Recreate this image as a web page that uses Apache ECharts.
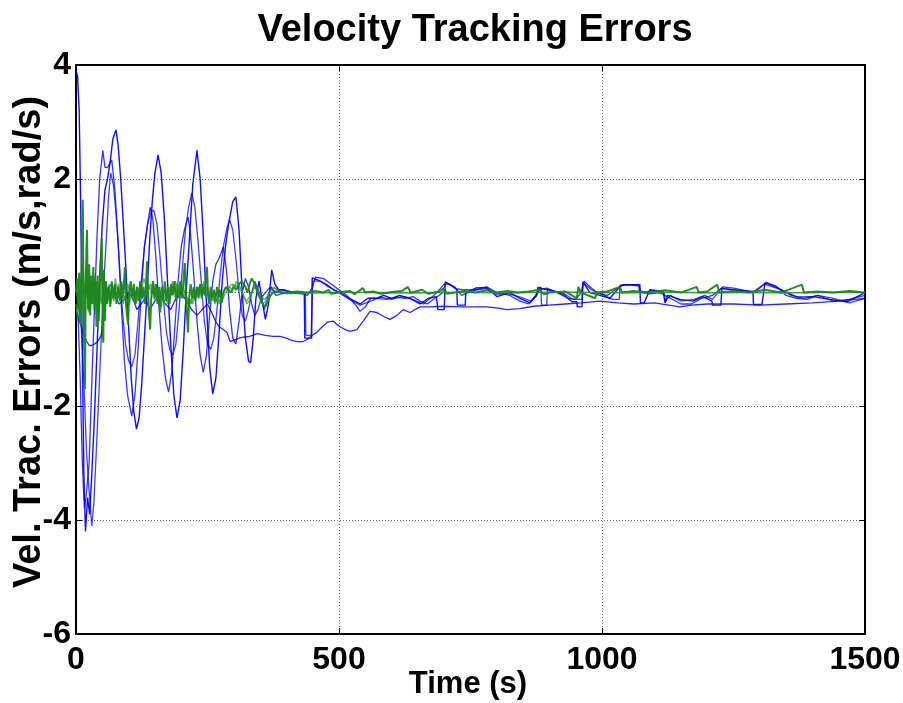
<!DOCTYPE html>
<html>
<head>
<meta charset="utf-8">
<script src="https://cdn.jsdelivr.net/npm/echarts@6/dist/echarts.min.js"></script>
<style>
  html, body { margin: 0; padding: 0; background: #fff; overflow: hidden; }
  #chart { width: 903px; height: 703px; }
</style>
</head>
<body>
<div id="chart"></div>
<script>
// Axis ticks
const xTicks = [0, 500, 1000, 1500];
const yTicks = [-6, -4, -2, 0, 2, 4];

// Linear-velocity tracking errors, [time (s), error]
const blueA = [
  [0,3.9],[3,3.8],[6,3.2],[9,1.5],[12,-1],[15,-3.2],[18,-4.2],[22,-3.6],[26,-3.9],[30,-3.2],[35,-2.2],[40,-1.0],
  [45,0.3],[50,1.2],[55,1.8],[60,2.0],[65,2.3],[70,2.7],[76,2.86],[80,2.6],[85,2.0],[90,1.2],[95,0.4],[100,-0.6],
  [105,-1.5],[110,-2.1],[115,-2.4],[120,-2.2],[125,-1.6],[130,-0.8],[135,0],[140,0.9],[145,1.6],[150,2.1],[156,2.42],
  [162,2.1],[168,1.3],[174,0.2],[180,-0.9],[186,-1.8],[192,-2.2],[198,-1.9],[204,-1.0],[210,0.1],[216,1.0],[222,1.9],
  [230,2.5],[236,2.0],[242,1.0],[248,-0.2],[254,-1.3],[260,-1.78],[266,-1.5],[272,-0.7],[278,0.2],[284,0.8],[290,1.2],
  [298,1.6],[304,1.68],[310,1.1],[316,0],[322,-0.8],[328,-1.2],[332,-1.23],[337,-0.8],[342,-0.1],[348,0.2],[355,-0.2],
  [360,-0.47],[366,-0.2],[372,0.4],[378,0.15],[385,0.05],[395,0.05],[410,0.0],[425,0.0],[434,0.0],[435,-0.8],[448,-0.8],
  [449,0.26],[460,0.22],[475,0.15],[490,0.05],[505,-0.02],[520,-0.1],[540,-0.2],[555,-0.1],[570,-0.1],[585,-0.05],
  [600,-0.1],[615,-0.05],[635,-0.1],[654,-0.2],[670,-0.1],[685,-0.07],[688,-0.3],[700,-0.3],[702,0.19],[715,0.12],
  [724,0.05],[725,-0.22],[740,-0.22],[741,0.0],[760,0.08],[781,0.09],[800,-0.07],[825,0.0],[844,-0.1],[863,-0.18],
  [876,-0.05],[878,0.09],[890,0.06],[900,0.05],[926,-0.03],[943,-0.16],[952,-0.16],[953,-0.25],[962,-0.25],[964,0.19],
  [977,0.0],[996,-0.05],[1015,-0.1],[1034,0.1],[1040,0.14],[1072,0.14],[1073,-0.18],[1080,-0.18],[1091,0.05],
  [1116,0.02],[1120,-0.18],[1125,-0.05],[1148,-0.12],[1173,-0.15],[1192,-0.07],[1209,-0.15],[1210,-0.22],[1226,-0.22],
  [1228,0.07],[1249,0.05],[1287,0.02],[1288,-0.21],[1304,-0.21],[1310,0.17],[1330,0.1],[1352,0.0],[1371,-0.08],
  [1401,-0.07],[1433,-0.12],[1466,-0.16],[1490,-0.05],[1500,0.0]
];

const blueB = [
  [0,-0.3],[4,-0.4],[8,-1.5],[12,-3.0],[16,-3.8],[20,-3.5],[25,-3.0],[30,-1.6],[35,-0.3],[40,1.0],[45,2.0],[51,2.5],
  [55,2.2],[60,2.2],[68,2.33],[74,1.8],[80,0.9],[86,-0.2],[92,-1.2],[98,-1.8],[106,-2.17],[112,-1.8],[118,-1.0],[124,0],
  [130,0.8],[136,1.2],[141,1.5],[146,1.3],[152,0.6],[158,-0.3],[164,-1.0],[170,-1.5],[176,-1.75],[182,-1.4],[188,-0.6],
  [194,0.2],[200,0.8],[206,1.1],[213,1.33],[218,1.0],[224,0.3],[230,-0.5],[236,-1.1],[242,-1.4],[248,-1.1],[254,-0.4],
  [260,0.2],[266,0.5],[272,0.6],[280,0.8],[286,0.4],[292,-0.3],[298,-0.8],[304,-0.9],[310,-0.5],[316,0.0],[322,0.25],
  [328,0.1],[334,-0.2],[340,-0.4],[346,-0.3],[352,-0.1],[360,0.0],[370,0.1],[380,-0.05],[400,0.0],[430,-0.02],
  [440,-0.05],[450,0.1],[455,0.27],[470,0.25],[485,0.15],[500,0.05],[515,-0.05],[530,-0.2],[540,-0.33],[550,-0.25],
  [560,-0.1],[572,-0.1],[590,-0.12],[610,-0.08],[625,-0.1],[641,-0.07],[654,-0.15],[668,-0.2],[682,-0.1],[690,-0.05],
  [697,0.0],[703,0.17],[720,0.1],[733,-0.05],[745,0.0],[762,0.05],[781,0.1],[800,0.0],[825,-0.05],[844,-0.15],
  [860,-0.2],[870,-0.1],[880,0.05],[895,0.08],[915,0.0],[935,-0.1],[950,-0.12],[960,0.0],[966,0.2],[975,0.12],
  [990,0.0],[1010,-0.05],[1036,0.12],[1045,0.14],[1070,0.12],[1075,0.0],[1091,-0.02],[1110,0.0],[1130,-0.1],
  [1150,-0.2],[1170,-0.2],[1190,-0.1],[1210,-0.05],[1230,0.1],[1250,0.08],[1275,0.03],[1290,0.0],[1312,0.18],
  [1330,0.12],[1350,-0.05],[1370,-0.1],[1390,-0.12],[1410,-0.05],[1440,-0.15],[1470,-0.12],[1500,-0.05]
];

const blueC = [
  [0,-0.3],[5,-0.45],[10,-0.6],[15,-0.75],[20,-0.85],[25,-0.93],[30,-0.93],[36,-0.9],[42,-0.85],[48,-0.75],[52,-0.5],
  [56,-0.2],[60,0.0],[65,0.14],[70,0.1],[76,-0.1],[82,-0.2],[88,-0.15],[94,-0.1],[100,0.0],[108,-0.1],[116,-0.3],
  [124,-0.2],[132,-0.1],[140,-0.3],[150,-0.15],[160,-0.05],[170,-0.2],[180,-0.3],[190,-0.1],[200,0.0],[210,-0.15],
  [220,-0.3],[230,-0.4],[240,-0.3],[250,-0.2],[258,-0.35],[265,-0.5],[272,-0.6],[280,-0.65],[287,-0.7],[293,-0.86],
  [300,-0.84],[310,-0.8],[320,-0.78],[330,-0.77],[345,-0.72],[360,-0.75],[375,-0.77],[388,-0.77],[400,-0.8],
  [410,-0.84],[420,-0.86],[432,-0.86],[440,-0.82],[449,-0.75],[458,-0.7],[468,-0.6],[478,-0.52],[489,-0.5],
  [495,-0.55],[502,-0.6],[512,-0.65],[521,-0.68],[534,-0.65],[546,-0.5],[559,-0.33],[572,-0.35],[585,-0.42],
  [597,-0.47],[610,-0.4],[622,-0.3],[635,-0.35],[654,-0.25],[673,-0.25],[700,-0.24],[730,-0.25],[760,-0.25],
  [781,-0.25],[800,-0.27],[819,-0.3],[844,-0.28],[870,-0.24],[900,-0.22],[930,-0.2],[960,-0.18],[996,-0.15],
  [1030,-0.18],[1060,-0.2],[1100,-0.18],[1148,-0.25],[1170,-0.22],[1200,-0.2],[1250,-0.2],[1300,-0.22],[1350,-0.2],
  [1400,-0.18],[1450,-0.15],[1480,-0.12],[1500,-0.1]
];

const blueD = [
  [0,0.05],[5,-0.2],[10,-0.6],[15,-1.6],[20,-2.8],[25,-3.5],[30,-4.1],[34,-3.7],[38,-2.9],[43,-1.9],[48,-0.8],[53,0.2],
  [58,1.0],[62,1.7],[66,2.1],[71,1.9],[76,1.4],[82,0.6],[88,-0.3],[94,-0.9],[100,-1.2],[106,-1.3],[112,-1.1],[118,-0.5],
  [124,0.2],[130,0.8],[136,1.2],[142,1.4],[148,1.45],[154,1.2],[160,0.6],[166,-0.1],[172,-0.7],[178,-1.0],[184,-1.1],
  [190,-0.9],[196,-0.3],[202,0.4],[208,1.1],[214,1.5],[220,1.75],[226,1.5],[232,0.9],[238,0.2],[244,-0.5],[250,-0.9],
  [256,-1.0],[262,-0.8],[268,-0.3],[274,0.3],[280,0.8],[286,1.1],[292,1.28],[298,1.1],[304,0.6],[310,0.0],[316,-0.4],
  [322,-0.5],[328,-0.3],[334,0.0],[340,0.2],[346,0.05],[352,-0.1],[358,-0.3],[364,-0.1],[370,0.1],[380,0.0],
  [390,0.05],[420,0.0],[436,-0.02],[437,-0.75],[447,-0.75],[450,0.2],[465,0.2],[480,0.1],[500,0.0],[520,-0.12],
  [540,-0.22],[560,-0.15],[580,-0.08],[600,-0.12],[620,-0.07],[640,-0.12],[660,-0.2],[680,-0.05],[686,0.0],[700,0.15],
  [710,0.15],[722,0.07],[735,0.05],[760,0.05],[780,0.07],[800,-0.03],[820,-0.02],[845,-0.08],[865,-0.15],[879,0.0],
  [880,0.09],[884,0.09],[885,-0.22],[895,-0.22],[896,0.05],[925,0.0],[945,-0.12],[962,-0.12],[963,0.18],[980,0.05],
  [1000,-0.03],[1020,-0.12],[1033,-0.12],[1034,0.13],[1070,0.13],[1071,0.0],[1095,0.03],[1118,0.0],[1121,-0.15],
  [1130,-0.05],[1150,-0.15],[1175,-0.12],[1195,-0.05],[1210,-0.12],[1227,0.08],[1260,0.03],[1285,0.0],[1309,0.15],
  [1340,0.05],[1360,-0.05],[1385,-0.1],[1410,-0.05],[1440,-0.1],[1470,-0.18],[1500,-0.1]
];

// Angular-velocity tracking errors, [time (s), error]
const greenA = [
  [0,0.0],[2,0.25],[4,-0.3],[6,0.35],[8,-0.5],[10,0.2],[12,1.0],[13,1.63],[14,0.2],[15,-0.7],[16,-1.2],[17,-1.7],
  [18,-0.5],[19,0.4],[20,0.8],[21,1.1],[22,0.3],[23,-0.3],[25,0.5],[27,-0.4],[29,0.3],[31,-0.2],[33,0.45],[35,-0.3],
  [37,0.2],[39,-0.6],[41,0.3],[43,-0.5],[45,0.1],[47,0.5],[49,0.96],[50,0.1],[51,-0.7],[52,-0.88],[53,0.4],[55,-0.5],
  [57,0.2],[59,-0.2],[62,0.1],[65,-0.25],[68,0.2],[71,-0.1],[74,0.15],[77,-0.2],[80,0.1],[83,-0.15],[86,0.2],[89,-0.1],
  [92,0.3],[93,0.45],[95,-0.2],[97,-0.4],[99,-0.56],[101,0.0],[104,0.2],[107,-0.1],[110,0.15],[113,-0.2],[116,0.1],
  [119,-0.15],[122,0.2],[125,-0.1],[128,0.1],[131,-0.2],[134,0.3],[135,0.55],[137,0.0],[139,-0.4],[141,-0.65],
  [143,-0.1],[146,0.2],[149,-0.1],[152,0.15],[155,-0.2],[158,0.1],[160,-0.35],[163,0.1],[166,-0.1],[169,0.2],
  [172,-0.15],[175,0.1],[178,-0.2],[181,0.15],[184,-0.05],[187,0.2],[190,-0.15],[193,0.1],[196,-0.1],[199,0.2],
  [202,-0.1],[205,0.3],[207,0.52],[209,0.0],[211,-0.4],[213,-0.7],[215,-0.1],[218,0.15],[221,-0.1],[224,0.1],
  [227,-0.15],[230,0.1],[233,-0.1],[236,0.15],[239,-0.1],[242,0.1],[245,-0.05],[247,0.3],[249,0.45],[251,0.0],
  [253,-0.2],[256,0.1],[259,-0.1],[262,0.05],[265,-0.15],[268,0.1],[271,-0.1],[274,0.05],[277,-0.18],[280,0.0],
  [285,0.1],[290,0.05],[295,0.0],[300,0.1],[305,0.05],[310,0.15],[315,0.2],[318,0.23],[322,0.1],[326,0.0],[330,0.15],
  [334,0.25],[337,0.28],[340,0.15],[345,0.0],[350,-0.1],[355,-0.2],[360,-0.25],[365,-0.15],[370,-0.05],[375,0.0],
  [380,0.02],[390,0.0],[400,0.0],[420,0.02],[440,0.0],[455,0.03],[470,0.0],[480,0.05],[485,-0.02],[500,0.0],
  [520,0.03],[530,-0.03],[545,0.08],[550,0.0],[565,0.02],[580,-0.02],[600,0.01],[620,0.03],[631,0.1],[636,0.0],
  [658,0.05],[670,-0.02],[690,0.02],[700,0.08],[705,-0.02],[720,0.0],[740,0.03],[760,0.0],[780,0.04],[800,0.0],
  [820,0.03],[840,0.0],[860,0.02],[880,0.05],[890,-0.03],[900,0.0],[930,0.02],[952,-0.1],[955,0.1],[960,0.0],
  [987,-0.1],[990,0.0],[1010,0.02],[1034,0.1],[1038,0.0],[1060,0.03],[1090,0.0],[1120,0.04],[1150,0.0],[1180,0.1],
  [1184,0.0],[1200,0.02],[1219,0.14],[1223,0.0],[1250,0.03],[1280,0.0],[1310,0.05],[1340,0.0],[1380,0.14],
  [1384,0.0],[1410,0.02],[1440,0.0],[1470,0.03],[1500,0.0]
];

const greenB = [
  [0,-0.2],[3,-0.5],[6,0.1],[9,-0.4],[12,0.3],[15,-0.2],[18,0.4],[21,-0.1],[24,0.35],[27,-0.2],[30,0.25],[33,0.1],
  [36,0.3],[39,0.0],[42,-0.65],[45,-0.2],[48,0.2],[51,0.3],[54,0.1],[57,0.2],[60,0.0],[63,0.15],[66,-0.1],[69,0.1],
  [72,0.0],[75,0.25],[78,0.05],[81,0.15],[84,-0.1],[87,0.0],[90,-0.2],[93,-0.05],[96,-0.25],[99,-0.1],[102,-0.2],
  [105,0.0],[108,-0.15],[111,0.05],[114,-0.1],[117,0.1],[120,0.0],[123,0.2],[126,0.1],[129,0.25],[132,0.15],[135,0.2],
  [138,0.05],[141,0.1],[144,-0.05],[147,0.05],[150,-0.15],[153,-0.05],[156,-0.2],[159,-0.1],[162,-0.25],[165,-0.1],
  [168,-0.2],[171,0.0],[174,-0.1],[177,0.1],[180,0.0],[183,0.2],[186,0.05],[189,0.2],[192,0.1],[195,0.15],[198,0.0],
  [201,0.1],[204,-0.1],[207,0.0],[210,-0.2],[213,-0.1],[216,-0.25],[219,-0.1],[222,-0.2],[225,0.0],[228,-0.05],
  [231,0.1],[234,0.0],[237,0.15],[240,0.05],[243,0.2],[246,0.05],[249,0.1],[252,-0.05],[255,0.0],[258,-0.1],
  [261,-0.05],[264,-0.18],[268,-0.1],[272,-0.2],[276,-0.05],[280,-0.1],[284,0.0],[288,0.05],[292,0.1],[296,0.05],
  [300,0.15],[304,0.1],[308,0.18],[312,0.05],[316,0.0],[320,-0.1],[324,-0.15],[328,-0.1],[332,-0.05],[336,0.05],
  [340,0.1],[344,0.05],[348,-0.05],[352,-0.1],[356,-0.2],[360,-0.15],[364,-0.05],[370,0.05],[376,0.1],[382,0.05],
  [390,0.0],[400,-0.02],[500,0.01],[600,-0.01],[700,0.01],[800,-0.01],[900,0.01],[1000,0.0],[1100,0.01],
  [1200,-0.01],[1300,0.01],[1400,0.0],[1500,0.0]
];

const greenC = [
  [0,0.1],[3,-0.1],[6,-0.4],[9,-0.6],[12,-0.3],[15,0.2],[18,-0.1],[21,0.3],[24,-0.35],[27,0.15],[30,-0.1],[33,0.2],
  [36,-0.15],[39,0.1],[42,-0.3],[45,0.0],[48,-0.2],[51,0.1],[54,-0.15],[57,0.15],[60,-0.1],[63,0.05],[66,-0.2],
  [69,-0.05],[72,-0.15],[75,0.0],[78,-0.1],[81,0.05],[84,0.0],[87,0.15],[90,0.05],[93,0.2],[96,0.1],[99,0.15],
  [102,0.0],[105,0.1],[108,-0.05],[111,0.0],[114,-0.2],[117,-0.1],[120,-0.15],[123,-0.05],[126,-0.1],[129,0.0],
  [132,-0.05],[135,0.1],[138,0.05],[141,0.15],[144,0.1],[147,0.2],[150,0.05],[153,0.1],[156,0.0],[159,0.05],
  [162,-0.1],[165,-0.05],[168,-0.15],[171,-0.1],[174,-0.2],[177,-0.1],[180,-0.05],[183,0.0],[186,0.1],[189,0.05],
  [192,0.15],[195,0.1],[198,0.2],[201,0.05],[204,0.1],[207,0.0],[210,-0.05],[213,-0.15],[216,-0.1],[219,-0.2],
  [222,-0.05],[225,-0.1],[228,0.0],[231,0.05],[234,0.1],[237,0.05],[240,0.15],[243,0.1],[246,0.05],[249,0.0],
  [252,-0.1],[255,-0.05],[258,-0.15],[261,-0.1],[265,-0.2],[269,-0.1],[273,-0.15],[277,-0.05],[281,0.0],[285,0.08],
  [289,0.05],[293,0.12],[297,0.15],[301,0.1],[305,0.2],[309,0.15],[313,0.08],[317,0.0],[321,-0.1],[325,-0.2],
  [329,-0.15],[333,-0.05],[337,0.05],[341,0.12],[345,0.08],[349,0.0],[353,-0.05],[357,-0.12],[361,-0.1],[366,-0.05],
  [372,0.05],[378,0.08],[385,0.03],[395,0.0],[450,-0.01],[550,0.01],[650,-0.01],[750,0.01],[850,0.0],[950,0.01],
  [1050,-0.01],[1150,0.01],[1250,0.0],[1350,-0.01],[1450,0.01],[1500,0.0]
];

const FONT = "'Liberation Sans', Arial, Helvetica, sans-serif";
const xName = 'Time (s)';
const yName = 'Vel. Trac. Errors (m/s,rad/s)';

function lineSeries(data, color, width, opacity) {
  return {
    type: 'line', data: data, showSymbol: false, symbol: 'none', smooth: false,
    lineStyle: { color: color, width: width, opacity: opacity }, silent: true, animation: false
  };
}

const chart = echarts.init(document.getElementById('chart'), null, { renderer: 'canvas' });

const tickLabel = {
  color: '#000', fontFamily: FONT, fontWeight: 'bold', fontSize: 32,
  formatter: function (v) { return String(v); }
};
const frameAxis = {
  axisLine: { show: true, onZero: false, lineStyle: { color: '#000', width: 2 } },
  axisTick: { show: true, inside: true, length: 6, lineStyle: { color: '#000', width: 1 } },
  splitLine: { show: false }, axisLabel: { show: false }
};

chart.setOption({
  animation: false,
  backgroundColor: '#fff',
  title: {
    text: 'Velocity Tracking Errors',
    left: 470, top: 7, textAlign: 'center',
    textStyle: { color: '#000', fontFamily: FONT, fontWeight: 'bold', fontSize: 38 }
  },
  grid: { left: 76, right: 38, top: 65, bottom: 69, containLabel: false, outerBoundsMode: 'none' },
  xAxis: [{
    type: 'value', min: xTicks[0], max: xTicks[xTicks.length - 1], interval: 500,
    axisLine: { show: true, onZero: false, lineStyle: { color: '#000', width: 2 } },
    axisTick: { show: true, inside: true, length: 6, lineStyle: { color: '#000', width: 1 } },
    splitLine: { show: true, lineStyle: { color: '#666', type: [1, 2], width: 1 } },
    axisLabel: Object.assign({ margin: 10 }, tickLabel)
  }, Object.assign({ type: 'value', position: 'top', min: 0, max: 1500, interval: 500 }, frameAxis)],
  yAxis: [{
    type: 'value', min: yTicks[0], max: yTicks[yTicks.length - 1], interval: 2,
    axisLine: { show: true, onZero: false, lineStyle: { color: '#000', width: 2 } },
    axisTick: { show: true, inside: true, length: 6, lineStyle: { color: '#000', width: 1 } },
    splitLine: { show: true, lineStyle: { color: '#666', type: [1, 2], width: 1 } },
    axisLabel: Object.assign({ margin: 5 }, tickLabel)
  }, Object.assign({ type: 'value', position: 'right', min: -6, max: 4, interval: 2 }, frameAxis)],
  // axis titles
  graphic: [
    {
      type: 'text', x: 468, y: 684,
      style: { text: xName, fill: '#000', font: 'bold 31px ' + FONT, align: 'center', verticalAlign: 'middle' }
    },
    {
      type: 'text', x: 30, y: 342, rotation: Math.PI / 2,
      style: { text: yName, fill: '#000', font: 'bold 38px ' + FONT, align: 'center', verticalAlign: 'middle' }
    }
  ],
  series: [
    lineSeries(blueC, '#0000ff', 1.3, 0.85),
    lineSeries(blueD, '#0000ff', 1.3, 0.75),
    lineSeries(blueB, '#0000ff', 1.3, 0.8),
    lineSeries(blueA, '#0000ff', 1.4, 0.95),
    lineSeries(greenC, '#2e9a2e', 1.3, 0.75),
    lineSeries(greenB, '#2e9a2e', 1.3, 0.75),
    lineSeries(greenA, '#1b861b', 2, 0.95)
  ]
});
</script>
</body>
</html>
